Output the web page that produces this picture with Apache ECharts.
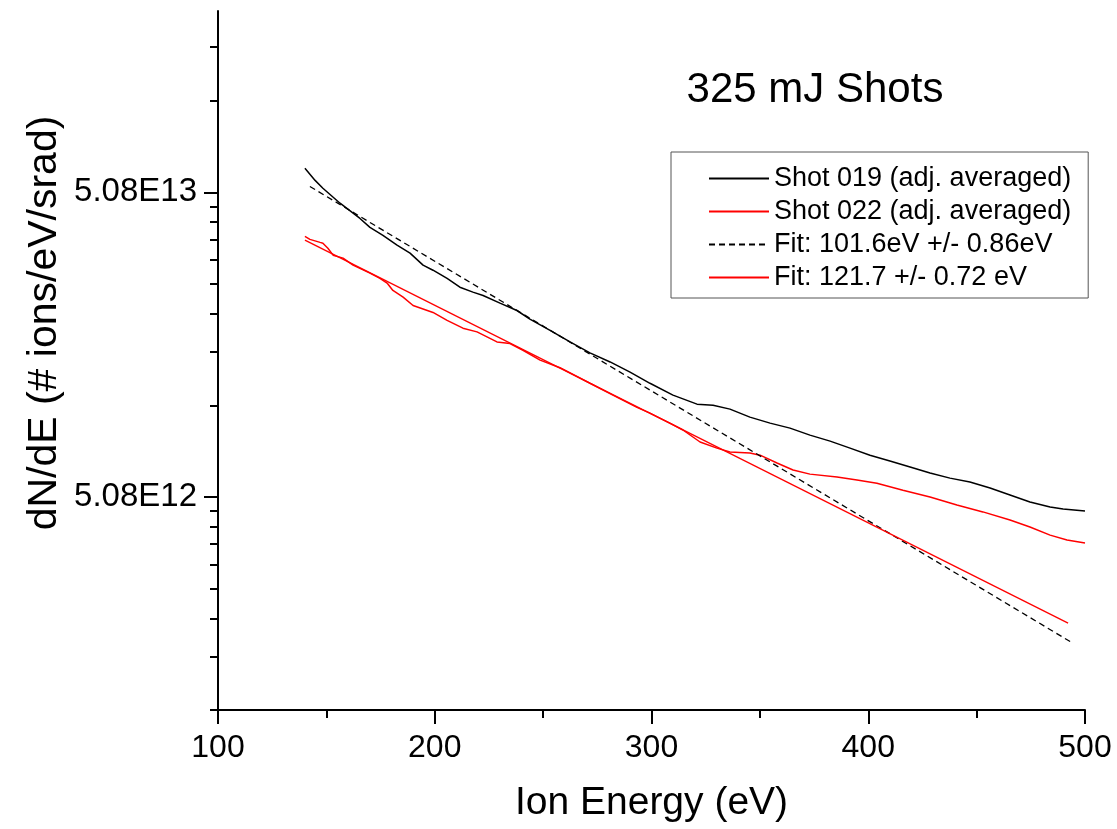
<!DOCTYPE html>
<html>
<head>
<meta charset="utf-8">
<script src="https://cdn.jsdelivr.net/npm/echarts@6/dist/echarts.min.js"></script>
<style>
  html, body { margin: 0; padding: 0; background: #fff; }
  #chart { width: 1117px; height: 829px; }
</style>
</head>
<body>
<div id="chart"></div>
<script>
// ---- Data ----
// Shot 019 (adj. averaged): energy (eV), dN/dE
const shot019E = [140.1,144.8,148.4,156.3,165.5,170.1,176.1,182.6,188.6,194.6,199.2,205.7,211.6,217.6,222.3,230.1,237.9,243.9,253.2,262.4,271.6,280.9,290.1,299.3,309.9,321.0,328.4,336.2,345.4,354.7,363.9,373.1,382.4,391.6,400.8,410.0,419.3,428.5,437.7,446.9,456.2,465.4,474.6,483.9,489.9,500.0];
const shot019V = [60.9e12,55.6e12,52.4e12,46.8e12,41.7e12,39.0e12,36.7e12,34.1e12,32.1e12,29.3e12,28.2e12,26.5e12,24.8e12,23.9e12,23.3e12,22.0e12,20.8e12,19.5e12,17.9e12,16.4e12,15.1e12,14.1e12,13.05e12,12.0e12,10.97e12,10.25e12,10.17e12,9.87e12,9.29e12,8.88e12,8.55e12,8.11e12,7.75e12,7.35e12,6.97e12,6.67e12,6.37e12,6.09e12,5.86e12,5.69e12,5.44e12,5.16e12,4.89e12,4.71e12,4.64e12,4.57e12];
// Shot 022 (adj. averaged)
const shot022E = [140.1,142.4,147.1,148.4,150.7,153.1,157.7,162.3,170.1,174.7,178.0,180.7,185.4,190.0,199.2,205.7,213.0,219.5,228.7,234.7,240.7,248.6,257.8,271.6,282.2,293.3,299.3,308.5,314.5,322.4,330.2,336.2,345.4,350.1,357.9,365.3,373.1,385.6,394.8,404.0,416.0,428.5,440.9,452.9,465.4,474.6,483.9,491.7,500.0];
const shot022V = [36.4e12,35.6e12,34.8e12,34.6e12,33.3e12,31.6e12,30.9e12,29.3e12,27.6e12,26.5e12,25.6e12,24.2e12,23.0e12,21.6e12,20.5e12,19.3e12,18.2e12,17.7e12,16.4e12,16.2e12,15.4e12,14.3e12,13.5e12,12.0e12,10.97e12,10.0e12,9.58e12,8.88e12,8.43e12,7.70e12,7.35e12,7.14e12,7.08e12,6.97e12,6.57e12,6.23e12,6.04e12,5.91e12,5.78e12,5.64e12,5.35e12,5.08e12,4.78e12,4.54e12,4.27e12,4.05e12,3.81e12,3.67e12,3.59e12];
// Fit: 101.6 eV (dashed black) endpoints
const fit019E = [142.4, 494.0];
const fit019V = [53.1e12, 1.69e12];
// Fit: 121.7 eV (red) endpoints
const fit022E = [140.1, 492.2];
const fit022V = [35.4e12, 1.96e12];

const seriesNames = ['Shot 019 (adj. averaged)', 'Shot 022 (adj. averaged)', 'Fit: 101.6eV +/- 0.86eV', 'Fit: 121.7 +/- 0.72 eV'];
const titleText = '325 mJ Shots';
const xName = 'Ion Energy (eV)';
const yName = 'dN/dE (# ions/eV/srad)';

const xMin = 100, xMax = 500, xStep = 100;
const yMin = 1.016e12, yMax = 2.0e14;
const yMajorTicks = [5.08e12, 5.08e13];
const yMajorLabels = ['5.08E12', '5.08E13'];
const yMinorTicks = [1.016e12,1.524e12,2.032e12,2.54e12,3.048e12,3.556e12,4.064e12,4.572e12,
                     10.16e12,15.24e12,20.32e12,25.4e12,30.48e12,35.56e12,40.64e12,45.72e12,
                     101.6e12,152.4e12];

function pairs(xs, ys) { return xs.map((x, i) => [x, ys[i]]); }

const FONT = "'Liberation Sans', Arial, Helvetica, sans-serif";
const chart = echarts.init(document.getElementById('chart'), null, { renderer: 'canvas' });

chart.setOption({
  animation: false,
  backgroundColor: '#ffffff',
  textStyle: { fontFamily: FONT },
  title: {
    text: titleText,
    left: 815, top: 69, textAlign: 'center', padding: 0,
    textStyle: { fontFamily: FONT, fontSize: 42, fontWeight: 'normal', color: '#000' }
  },
  grid: { left: 218, right: 32, top: 11, bottom: 119, containLabel: false },
  legend: {
    orient: 'vertical',
    left: 671, top: 152,
    padding: [13, 17, 7, 37],
    itemWidth: 60, itemHeight: 26, itemGap: 6,
    borderColor: '#555', borderWidth: 1,
    itemStyle: { opacity: 0 },
    textStyle: { fontFamily: FONT, fontSize: 27, color: '#000', lineHeight: 26 },
    data: seriesNames
  },
  graphic: [{
    type: 'text', x: 45, y: 323, rotation: Math.PI / 2,
    style: { text: yName, fontFamily: FONT, fontSize: 41, fill: '#000', align: 'center', verticalAlign: 'middle', textAlign: 'center', textVerticalAlign: 'middle' }
  }],
  xAxis: {
    type: 'value', min: xMin, max: xMax, interval: xStep,
    name: xName, nameLocation: 'middle', nameGap: 74,
    nameTextStyle: { fontFamily: FONT, fontSize: 39, color: '#000' },
    axisLine: { show: true, onZero: false, lineStyle: { color: '#000', width: 2 } },
    axisTick: { show: true, length: 14, lineStyle: { color: '#000', width: 2 } },
    minorTick: { show: true, splitNumber: 2, length: 8, lineStyle: { color: '#000', width: 2 } },
    axisLabel: { fontFamily: FONT, fontSize: 32, color: '#000', margin: 22 },
    splitLine: { show: false }
  },
  yAxis: [{
    type: 'log', logBase: 10, min: yMin, max: yMax, position: 'left',
    axisLine: { show: true, onZero: false, lineStyle: { color: '#000', width: 2 } },
    axisTick: { show: true, length: 14, customValues: yMajorTicks, lineStyle: { color: '#000', width: 2 } },
    axisLabel: {
      fontFamily: FONT, fontSize: 33, color: '#000', margin: 21,
      customValues: yMajorTicks,
      formatter: function (v) {
        let best = 0, bd = Infinity;
        yMajorTicks.forEach((t, i) => { const d = Math.abs(Math.log10(v) - Math.log10(t)); if (d < bd) { bd = d; best = i; } });
        return yMajorLabels[best];
      }
    },
    splitLine: { show: false }
  }, {
    type: 'log', logBase: 10, min: yMin, max: yMax, position: 'left', offset: 0,
    axisLine: { show: false },
    axisTick: { show: true, length: 8, customValues: yMinorTicks, lineStyle: { color: '#000', width: 2 } },
    axisLabel: { show: false },
    splitLine: { show: false }
  }],
  series: [
    { name: seriesNames[0], type: 'line', symbol: 'none', data: pairs(shot019E, shot019V),
      lineStyle: { color: '#000000', width: 1.5 }, itemStyle: { color: '#000000' } },
    { name: seriesNames[1], type: 'line', symbol: 'none', data: pairs(shot022E, shot022V),
      lineStyle: { color: '#ff0000', width: 1.5 }, itemStyle: { color: '#ff0000' } },
    { name: seriesNames[2], type: 'line', symbol: 'none', data: pairs(fit019E, fit019V),
      lineStyle: { color: '#000000', width: 1.3, type: [6, 4] }, itemStyle: { color: '#000000' } },
    { name: seriesNames[3], type: 'line', symbol: 'none', data: pairs(fit022E, fit022V),
      lineStyle: { color: '#ff0000', width: 1.3 }, itemStyle: { color: '#ff0000' } }
  ]
});
</script>
</body>
</html>
